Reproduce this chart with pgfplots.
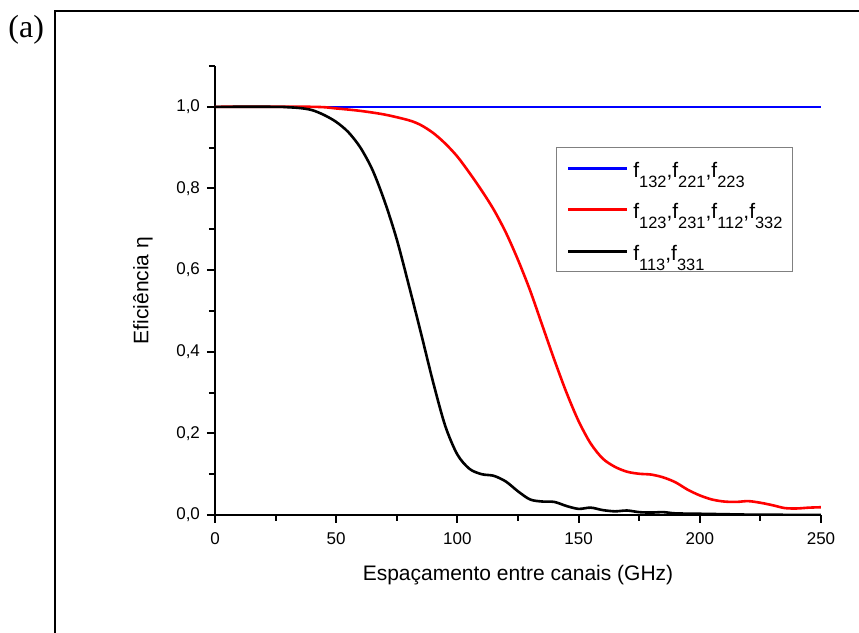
\documentclass[border=0pt]{standalone}
\usepackage{fontspec}
\setmainfont{Liberation Sans}
\newfontfamily\timesfont{Liberation Serif}
\usepackage{pgfplots}
\pgfplotsset{compat=1.18}
\newcommand{\sub}[1]{\raisebox{-5pt}{\fontsize{8.2}{9}\selectfont #1}}

\begin{document}
\begin{tikzpicture}
\useasboundingbox (0,0) rectangle (429.5pt,316.5pt);
% frame of the figure, cut at right and bottom
\draw[line width=1pt] (27.5pt,-2pt) -- (27.5pt,311pt) -- (432pt,311pt);
\node[anchor=base west, inner sep=0pt, font=\timesfont\fontsize{16}{18}\selectfont] at (4pt,297.5pt) {(a)};
\begin{axis}[
    at={(107.5pt,59pt)}, anchor=south west,
    scale only axis, width=303pt, height=224.5pt,
    xmin=0, xmax=250, ymin=0, ymax=1.1,
    axis lines*=left,
    axis line style={line width=1pt},
    xtick={0,50,100,150,200,250},
    minor xtick={25,75,125,175,225},
    ytick={0,0.2,0.4,0.6,0.8,1.0},
    minor ytick={0.1,0.3,0.5,0.7,0.9,1.1},
    tick align=outside,
    major tick length=4pt, minor tick length=3pt,
    every tick/.style={black, line width=1pt},
    /pgf/number format/assume math mode=true,
    yticklabel style={/pgf/number format/.cd, fixed, fixed zerofill, precision=1, use comma},
    xticklabel style={yshift=-1.5pt},
    tick label style={font=\fontsize{8.5}{10}\selectfont},
    xlabel={Espaçamento entre canais (GHz)},
    ylabel={Eficiência η},
    label style={font=\fontsize{10.5}{12}\selectfont},
    xlabel style={at={(axis description cs:0.5,-0.111)}, anchor=north, inner sep=0pt},
    ylabel style={at={(axis description cs:-0.102,0.5)}, anchor=south, inner sep=0pt},
    legend style={at={(0.563,0.8196)}, anchor=north west, draw=gray, line width=0.6pt,
        inner xsep=5pt, inner ysep=4pt, row sep=11.7pt,
        nodes={inner sep=0pt, anchor=base west},
        font=\fontsize{10.5}{12}\selectfont},
    legend cell align=left,
    legend image code/.code={\draw[#1] (0pt,4.5pt) -- (29.5pt,4.5pt); \path (32pt,0pt);},
]

\addplot[color=blue, line width=1.3pt] coordinates {(0,1)(250,1)};

\addplot[color=red, line width=1.3pt, smooth] coordinates {
(0,1.0)(40,1.0)(50,0.996)(60,0.99)(70,0.981)(80,0.967)(85,0.955)(90,0.936)
(95,0.910)(100,0.878)(105,0.838)(110,0.795)(115,0.748)(120,0.692)(125,0.625)
(130,0.55)(135,0.465)(140,0.38)(145,0.30)(150,0.23)(155,0.175)(160,0.138)
(165,0.118)(170,0.106)(175,0.101)(180,0.099)(185,0.092)(190,0.08)(195,0.062)
(200,0.048)(205,0.038)(210,0.033)(215,0.032)(220,0.034)(225,0.03)(230,0.024)
(235,0.017)(240,0.016)(245,0.018)(250,0.019)};

\addplot[color=black, line width=1.3pt, smooth] coordinates {
(0,1.0)(25,1.0)(30,0.999)(35,0.997)(40,0.992)(45,0.980)(50,0.963)(55,0.938)
(60,0.900)(65,0.845)(70,0.768)(75,0.675)(80,0.562)(85,0.445)(90,0.325)(95,0.218)
(100,0.148)(105,0.113)(110,0.100)(115,0.096)(120,0.082)(125,0.058)(130,0.038)
(135,0.033)(140,0.032)(145,0.022)(150,0.015)(155,0.018)(160,0.012)(165,0.009)
(170,0.011)(175,0.007)(180,0.006)(185,0.007)(190,0.004)(200,0.003)(210,0.002)
(220,0.001)(250,0.0)};

\legend{{\rule{0pt}{10.8pt}f\sub{132},f\sub{221},f\sub{223}},
        {f\sub{123},f\sub{231},f\sub{112},f\sub{332}},
        {f\sub{113},f\sub{331}}}
\end{axis}
\end{tikzpicture}
\end{document}
